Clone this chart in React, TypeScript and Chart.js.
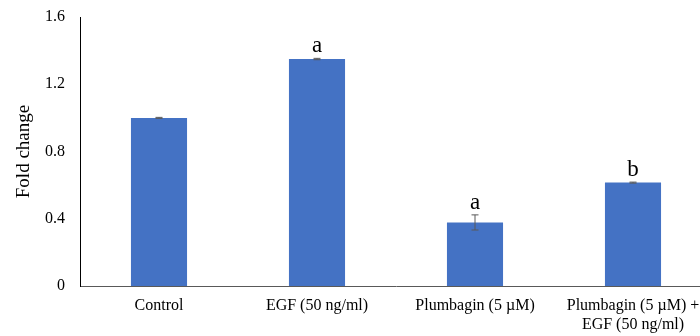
import React, { useEffect, useRef } from "react";
import { Chart, registerables } from "chart.js";

Chart.register(...registerables);

const categories: (string | string[])[] = [
  "Control",
  "EGF (50 ng/ml)",
  "Plumbagin (5 \u00b5M)",
  ["Plumbagin (5 \u00b5M) +", "EGF (50 ng/ml)"],
];
const foldChange = [1.0, 1.35, 0.378, 0.615];
const errors = [0.003, 0.004, 0.045, 0.003];
const letters = ["", "a", "a", "b"];
const yTicks = [0, 0.4, 0.8, 1.2, 1.6];

const SERIF = "'Liberation Serif', 'Times New Roman', serif";

const errorBarPlugin = {
  id: "errorBars",
  afterDatasetsDraw(chart: any) {
    const ctx = chart.ctx;
    const meta = chart.getDatasetMeta(0);
    const y = chart.scales.y;
    ctx.save();
    meta.data.forEach((bar: any, i: number) => {
      const v = foldChange[i];
      const e = errors[i];
      const top = y.getPixelForValue(v + e);
      const bot = y.getPixelForValue(v - e);
      const x = bar.x;
      ctx.strokeStyle = "#595959";
      ctx.lineWidth = 1;
      ctx.beginPath();
      ctx.moveTo(x, top);
      ctx.lineTo(x, bot);
      ctx.moveTo(x - 3.5, top);
      ctx.lineTo(x + 3.5, top);
      ctx.moveTo(x - 3.5, bot);
      ctx.lineTo(x + 3.5, bot);
      ctx.stroke();
      if (letters[i]) {
        ctx.fillStyle = "#000";
        ctx.font = `23px ${SERIF}`;
        ctx.textAlign = "center";
        ctx.textBaseline = "alphabetic";
        ctx.fillText(letters[i], x, top - 6);
      }
    });
    ctx.restore();
  },
};

export default function App() {
  const ref = useRef<HTMLCanvasElement | null>(null);
  useEffect(() => {
    if (!ref.current) return;
    const chart = new Chart(ref.current, {
      type: "bar",
      data: {
        labels: categories,
        datasets: [
          {
            data: foldChange,
            backgroundColor: "#4472C4",
            borderWidth: 0,
            categoryPercentage: 1,
            barPercentage: 0.355,
          },
        ],
      },
      options: {
        responsive: false,
        animation: false,
        layout: { padding: { top: 17, left: 0, right: 28, bottom: 0 } },
        plugins: { legend: { display: false }, tooltip: { enabled: false } },
        scales: {
          x: {
            grid: { display: false, drawTicks: false },
            border: { display: true, color: "#595959", width: 1 },
            ticks: {
              color: "#000",
              font: { family: SERIF, size: 16 },
              padding: 10,
              maxRotation: 0,
              autoSkip: false,
            },
            afterFit: (s: any) => {
              s.height = 50;
              s.paddingLeft = 0;
              s.paddingRight = 0;
            },
          },
          y: {
            min: 0,
            max: 1.6,
            grid: { display: false, drawTicks: false },
            border: { display: true, color: "#000", width: 1 },
            afterBuildTicks: (s: any) => {
              s.ticks = yTicks.map((v) => ({ value: v }));
            },
            ticks: {
              color: "#000",
              font: { family: SERIF, size: 16 },
              padding: 15,
              callback: (v: any) => (Number(v) === 0 ? "0" : Number(v).toFixed(1)),
            },
            title: {
              display: true,
              text: "Fold change",
              color: "#000",
              font: { family: SERIF, size: 19 },
              padding: { top: 13, bottom: 0 },
            },
            afterFit: (s: any) => {
              s.width = 80;
              s.paddingTop = 0;
              s.paddingBottom = 0;
            },
          },
        },
      },
      plugins: [errorBarPlugin],
    });
    return () => chart.destroy();
  }, []);
  return (
    <div
      style={{
        position: "fixed",
        left: 0,
        top: 0,
        width: 700,
        height: 336,
        overflow: "hidden",
        background: "#fff",
      }}
    >
      <canvas ref={ref} width={740} height={336} style={{ display: "block" }} />
    </div>
  );
}
